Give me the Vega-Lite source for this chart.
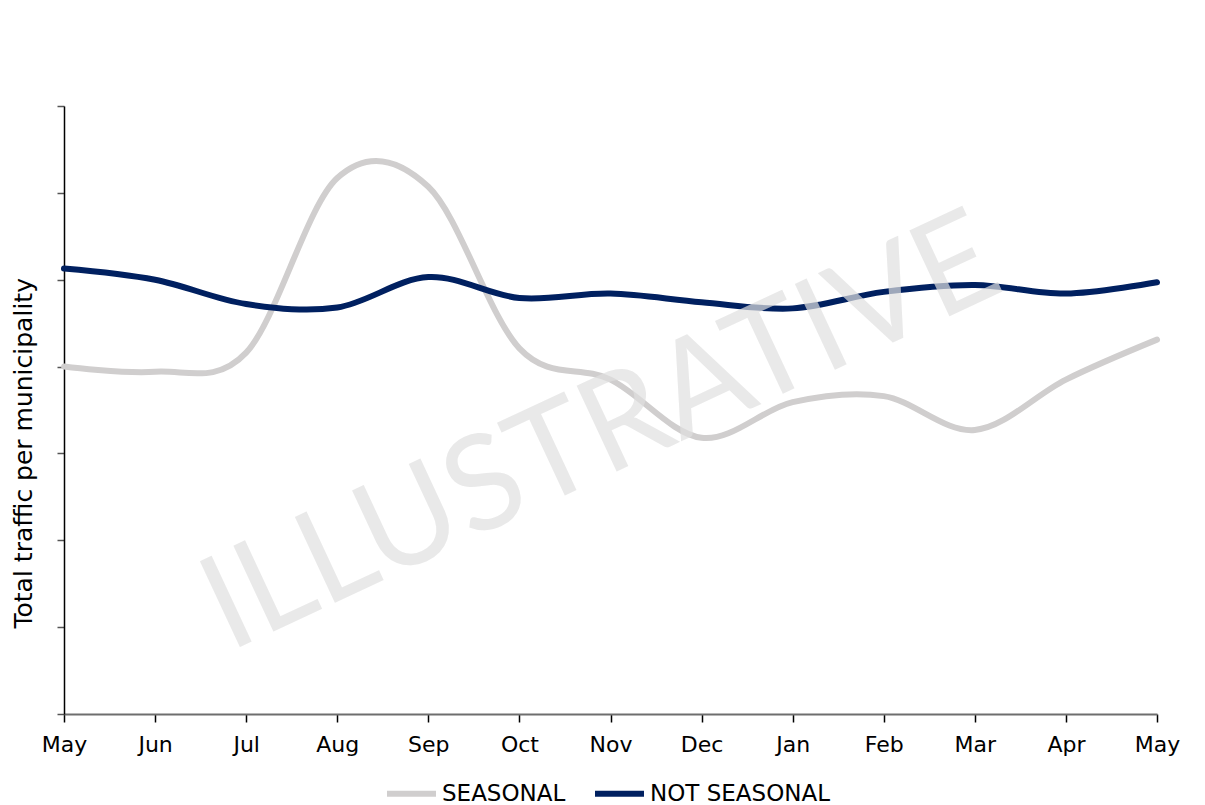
{
  "$schema": "https://vega.github.io/schema/vega-lite/v6.json",
  "width": 1093,
  "height": 608,
  "autosize": {"type": "none"},
  "padding": {"left": 64, "top": 106, "right": 48, "bottom": 91},
  "background": "white",
  "config": {
    "view": {"stroke": null},
    "font": "DejaVu Sans"
  },
  "layer": [
    {
      "data": {
        "values": [
          {"t": 0, "series": "SEASONAL", "v": 4.0},
          {"t": 1, "series": "SEASONAL", "v": 3.94},
          {"t": 2, "series": "SEASONAL", "v": 4.16},
          {"t": 3, "series": "SEASONAL", "v": 6.17},
          {"t": 4, "series": "SEASONAL", "v": 6.07},
          {"t": 5, "series": "SEASONAL", "v": 4.21},
          {"t": 6, "series": "SEASONAL", "v": 3.85},
          {"t": 7, "series": "SEASONAL", "v": 3.18},
          {"t": 8, "series": "SEASONAL", "v": 3.59},
          {"t": 9, "series": "SEASONAL", "v": 3.66},
          {"t": 10, "series": "SEASONAL", "v": 3.27},
          {"t": 11, "series": "SEASONAL", "v": 3.85},
          {"t": 12, "series": "SEASONAL", "v": 4.31},
          {"t": 0, "series": "NOT SEASONAL", "v": 5.13},
          {"t": 1, "series": "NOT SEASONAL", "v": 5.0},
          {"t": 2, "series": "NOT SEASONAL", "v": 4.72},
          {"t": 3, "series": "NOT SEASONAL", "v": 4.68},
          {"t": 4, "series": "NOT SEASONAL", "v": 5.03},
          {"t": 5, "series": "NOT SEASONAL", "v": 4.79},
          {"t": 6, "series": "NOT SEASONAL", "v": 4.84},
          {"t": 7, "series": "NOT SEASONAL", "v": 4.74},
          {"t": 8, "series": "NOT SEASONAL", "v": 4.67},
          {"t": 9, "series": "NOT SEASONAL", "v": 4.86},
          {"t": 10, "series": "NOT SEASONAL", "v": 4.94},
          {"t": 11, "series": "NOT SEASONAL", "v": 4.84},
          {"t": 12, "series": "NOT SEASONAL", "v": 4.97}
        ]
      },
      "mark": {"type": "line", "interpolate": "cardinal", "strokeWidth": 6, "strokeCap": "round"},
      "encoding": {
        "x": {
          "field": "t",
          "type": "quantitative",
          "scale": {"domain": [0, 12], "nice": false, "zero": false},
          "axis": {
            "title": null,
            "values": [0, 1, 2, 3, 4, 5, 6, 7, 8, 9, 10, 11, 12],
            "labelExpr": "['May','Jun','Jul','Aug','Sep','Oct','Nov','Dec','Jan','Feb','Mar','Apr','May'][datum.value]",
            "labelFontSize": 22,
            "labelColor": "#000000",
            "labelPadding": 12,
            "labelFlush": false,
            "labelOverlap": false,
            "domainColor": "#6e6e6e",
            "domainWidth": 2,
            "tickColor": "#000000",
            "tickSize": 8,
            "tickWidth": 1.5,
            "grid": false
          }
        },
        "y": {
          "field": "v",
          "type": "quantitative",
          "scale": {"domain": [0, 7], "nice": false},
          "axis": {
            "title": "Total traffic per municipality",
            "titleFontSize": 25,
            "titleFontWeight": "normal",
            "titleColor": "#000000",
            "titleAnchor": "start",
            "titleAngle": -90,
            "titleX": -41,
            "titleY": 522,
            "titleBaseline": "middle",
            "titleAlign": "left",
            "values": [0, 1, 2, 3, 4, 5, 6, 7],
            "labels": false,
            "domainColor": "#000000",
            "domainWidth": 1.5,
            "tickColor": "#555555",
            "tickSize": 7,
            "tickWidth": 1.5,
            "grid": false
          }
        },
        "color": {
          "field": "series",
          "type": "nominal",
          "scale": {"domain": ["SEASONAL", "NOT SEASONAL"], "range": ["#d0cece", "#002060"]},
          "legend": {
            "title": null,
            "orient": "none",
            "direction": "horizontal",
            "legendX": 320,
            "legendY": 660,
            "symbolType": "stroke",
            "symbolStrokeWidth": 6,
            "symbolSize": 2400,
            "symbolOffset": 0,
            "labelFontSize": 23,
            "labelColor": "#000000",
            "labelOffset": 3,
            "labelLimit": 400,
            "columnPadding": 17
          }
        }
      }
    },
    {
      "data": {"values": [{"label": "ILLUSTRATIVE", "t": 5.9, "v": 3.22}]},
      "mark": {
        "type": "text",
        "font": "Lato",
        "fontSize": 132,
        "angle": -25,
        "align": "center",
        "baseline": "middle",
        "color": "#e0e0e0",
        "opacity": 0.7
      },
      "encoding": {
        "x": {"field": "t", "type": "quantitative"},
        "y": {"field": "v", "type": "quantitative"},
        "text": {"field": "label"}
      }
    }
  ]
}
